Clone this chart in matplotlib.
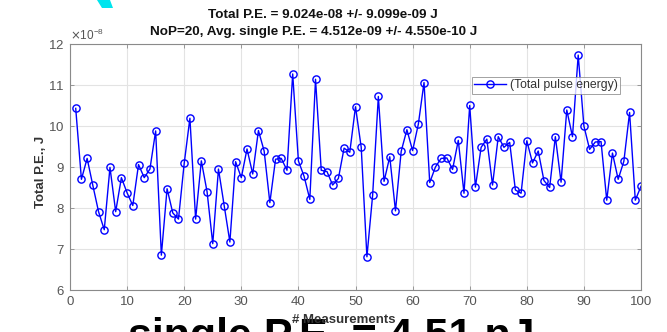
import matplotlib
matplotlib.use("Agg")
import matplotlib.pyplot as plt
from matplotlib.patches import Polygon
from matplotlib.ticker import ScalarFormatter

plt.rcParams['font.family'] = ['Liberation Sans', 'DejaVu Sans']

# Total pulse energy per measurement, in units of 1e-8 J
measurement = list(range(1, 101))
energy_e8 = [
    10.43, 8.70, 9.21, 8.55, 7.91, 7.47, 8.99, 7.91, 8.74, 8.37,
    8.06, 9.06, 8.74, 8.95, 9.88, 6.85, 8.47, 7.88, 7.73, 9.09,
    10.19, 7.73, 9.15, 8.40, 7.13, 8.95, 8.06, 7.17, 9.13, 8.74,
    9.44, 8.83, 9.89, 9.39, 8.13, 9.19, 9.21, 8.92, 11.27, 9.15,
    8.77, 8.21, 11.14, 8.92, 8.89, 8.56, 8.72, 9.46, 9.36, 10.47,
    9.48, 6.81, 8.31, 10.72, 8.65, 9.25, 7.93, 9.38, 9.91, 9.40,
    10.04, 11.06, 8.62, 9.00, 9.21, 9.22, 8.94, 9.65, 8.36, 10.50,
    8.51, 9.48, 9.68, 8.56, 9.74, 9.48, 9.60, 8.44, 8.36, 9.64,
    9.10, 9.39, 8.67, 8.50, 9.74, 8.63, 10.39, 9.74, 11.73, 10.00,
    9.43, 9.61, 9.62, 8.19, 9.34, 8.70, 9.14, 10.33, 8.19, 8.53,
]
energy = [v * 1e-8 for v in energy_e8]

x_ticks = [0, 10, 20, 30, 40, 50, 60, 70, 80, 90, 100]
y_ticks = [6e-8, 7e-8, 8e-8, 9e-8, 10e-8, 11e-8, 12e-8]

title_lines = [
    "Total P.E. = 9.024e-08 +/- 9.099e-09 J",
    "NoP=20, Avg. single P.E. = 4.512e-09 +/- 4.550e-10 J",
]
overlay_text = "single P.E. = 4.51 nJ"

W, H = 667, 332
fig = plt.figure(figsize=(W / 100, H / 100), dpi=100)
fig.patch.set_facecolor("white")

ax_l, ax_r, ax_t, ax_b = 70, 641, 44, 290
ax = fig.add_axes([ax_l / W, 1 - ax_b / H, (ax_r - ax_l) / W, (ax_b - ax_t) / H])

ax.plot(measurement, energy, color="#0000ff", lw=1.0, marker="o", ms=5.2,
        mfc="none", mec="#0000ff", mew=1.0, label="(Total pulse energy)")

ax.set_xlim(0, 100)
ax.set_ylim(6e-8, 12e-8)
ax.set_xticks(x_ticks)
ax.set_yticks(y_ticks)

# Fixed 1e-8 exponent shown above the y axis
fmt = ScalarFormatter(useMathText=True)
fmt.set_powerlimits((-8, -8))
ax.yaxis.set_major_formatter(fmt)
ax.yaxis.get_offset_text().set_fontsize(8.5)
ax.yaxis.get_offset_text().set_color("#666666")

ax.grid(True, color="#e3e3e3", lw=0.8)
ax.set_axisbelow(True)
for s in ax.spines.values():
    s.set_color("#8a8a8a")
    s.set_linewidth(0.8)
ax.tick_params(direction="in", top=True, right=True, length=3, width=0.6,
               color="#8a8a8a", labelcolor="#555555", labelsize=9.5, pad=4)

ax.set_ylabel("Total P.E., J", fontsize=9.5, fontweight="bold", color="#333333")
ax.yaxis.set_label_coords(-0.040, 0.48)

leg = ax.legend(loc="upper right", bbox_to_anchor=(0.963, 0.866),
                borderaxespad=0, fontsize=8.8, handlelength=2.6,
                frameon=True, fancybox=False, borderpad=0.2,
                handletextpad=0.3)
leg.get_frame().set_edgecolor("#8a8a8a")
leg.get_frame().set_linewidth(0.7)
for t in leg.get_texts():
    t.set_color("#333333")

# Two-line title
fig.text(323 / W, 1 - 15 / H, title_lines[0], ha="center", va="center",
         fontsize=9.7, fontweight="bold", color="#111111")
fig.text(314 / W, 1 - 32 / H, title_lines[1], ha="center", va="center",
         fontsize=9.7, fontweight="bold", color="#111111")

# Large caption running off the bottom edge
fig.text(128 / W, 1 - 348 / H, overlay_text, ha="left", va="baseline",
         fontsize=31, fontweight="bold", color="black")

fig.text(344 / W, 1 - 320 / H, "# Measurements", ha="center", va="center",
         fontsize=9.5, fontweight="bold", color="#333333")

# Small cyan pointer in the top-left corner
tri = Polygon([(97 / W, 1.0), (110 / W, 1.0), (113 / W, 1 - 8 / H), (102 / W, 1 - 8 / H)],
              closed=True, transform=fig.transFigure, color="#00e5ee", lw=0)
fig.patches.append(tri)

fig.savefig("out.png", dpi=100, facecolor="white")
